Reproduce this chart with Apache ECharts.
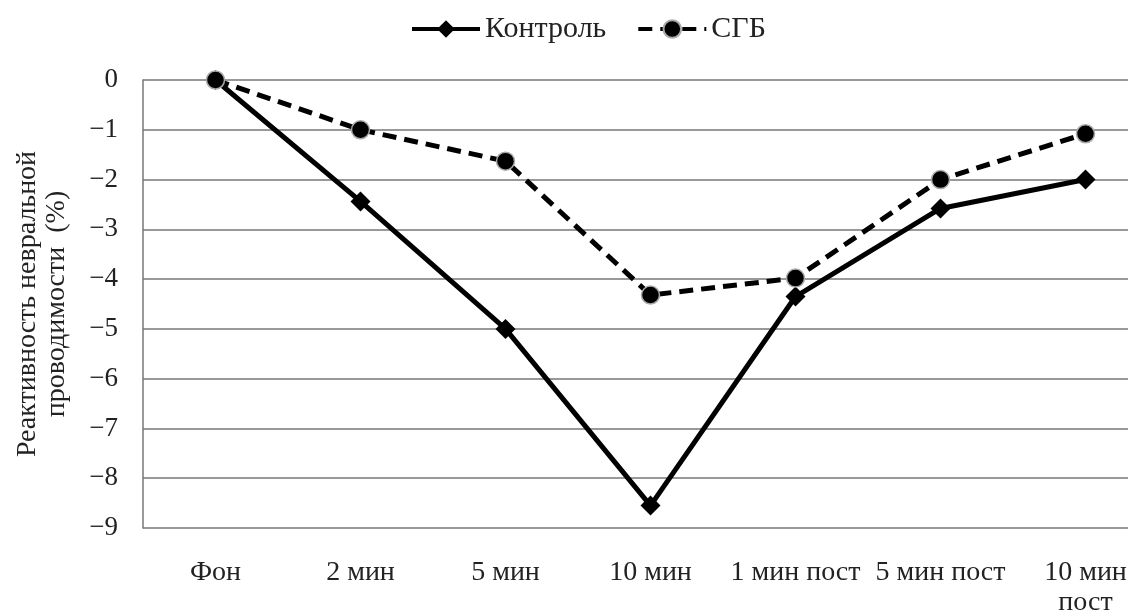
<!DOCTYPE html>
<html>
<head>
<meta charset="utf-8">
<script src="https://cdn.jsdelivr.net/npm/echarts@6/dist/echarts.min.js"></script>
<style>html,body{margin:0;padding:0;background:#fff}#c{width:1128px;height:615px}</style>
</head>
<body>
<div id="c"></div>
<script>
const categories = ['Фон', '2 мин', '5 мин', '10 мин', '1 мин пост', '5 мин пост', '10 мин\nпост'];
const kontrol = [0, -2.44, -5.0, -8.55, -4.35, -2.58, -2.0];
const sgb = [0, -1.0, -1.63, -4.32, -3.98, -2.0, -1.08];
const seriesNames = ['Контроль', 'СГБ'];
const yTitle = 'Реактивность невральной\nпроводимости  (%)';

const font = 'Liberation Serif, Times New Roman, serif';
const chart = echarts.init(document.getElementById('c'));
chart.setOption({
  animation: false,
  backgroundColor: '#fff',
  legend: {
    top: 9, left: 405,
    itemWidth: 68, itemHeight: 22, itemGap: 30,
    lineStyle: { width: 4 },
    textStyle: { fontFamily: font, fontSize: 30, color: '#222' },
    data: seriesNames
  },
  grid: { left: 143, top: 80, width: 1015, height: 448, outerBoundsMode: 'none', containLabel: false },
  xAxis: {
    type: 'category', data: categories, boundaryGap: true,
    axisLine: { show: false }, axisTick: { show: false },
    axisLabel: { fontFamily: font, fontSize: 28, color: '#222', margin: 30, lineHeight: 30, interval: 0 }
  },
  yAxis: {
    type: 'value', min: -9, max: 0, interval: 1,
    name: yTitle, nameLocation: 'middle', nameGap: 72, nameRotate: 90,
    nameTextStyle: { fontFamily: font, fontSize: 28, color: '#222', lineHeight: 29 },
    axisLine: { show: true, lineStyle: { color: '#777', width: 1.5 } },
    axisTick: { show: false },
    splitLine: { lineStyle: { color: '#777', width: 1.5 } },
    axisLabel: { fontFamily: font, fontSize: 27, color: '#222', margin: 25,
      formatter: v => String(v).replace('-', '−') }
  },
  series: [
    {
      name: seriesNames[0], type: 'line', data: kontrol,
      symbol: 'diamond', symbolSize: 20,
      lineStyle: { color: '#000', width: 5 },
      itemStyle: { color: '#000' }, z: 2
    },
    {
      name: seriesNames[1], type: 'line', data: sgb,
      symbol: 'circle', symbolSize: 18,
      lineStyle: { color: '#000', width: 5, type: [14, 8] },
      itemStyle: { color: '#000', borderColor: '#aaa', borderWidth: 1.5 }, z: 3
    }
  ]
});
</script>
</body>
</html>
